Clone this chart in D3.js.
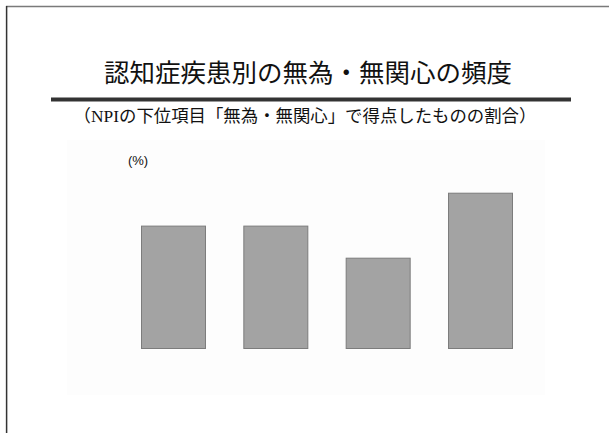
<!DOCTYPE html>
<html>
<head>
<meta charset="utf-8">
<script src="https://cdn.jsdelivr.net/npm/d3@7"></script>
<style>
  html, body { margin: 0; padding: 0; background: #fff; }
  svg { display: block; }
</style>
</head>
<body>
<div id="vis"></div>
<script>
const width = 609;
const height = 433;

const titleText = "認知症疾患別の無為・無関心の頻度";
const subtitleParts = ["（", "NPI", "の下位項目「無為・無関心」で得点したものの割合）"];
const unitText = "(%)";

// categories are not labelled in the picture
const categories = ["c1", "c2", "c3", "c4"];
const values = [45, 45, 33.3, 57];

const svg = d3.select("#vis").append("svg")
    .attr("width", width)
    .attr("height", height);

// slide frame
svg.append("line")
    .attr("x1", 6).attr("x2", width)
    .attr("y1", 6.6).attr("y2", 6.6)
    .attr("stroke", "#7a7a7a")
    .attr("stroke-width", 1.5);

svg.append("line")
    .attr("x1", 6.6).attr("x2", 6.6)
    .attr("y1", 6).attr("y2", height)
    .attr("stroke", "#333")
    .attr("stroke-width", 1.5);

svg.append("text")
    .attr("x", 308)
    .attr("y", 82)
    .attr("text-anchor", "middle")
    .style("font-family", "'Noto Sans CJK JP', sans-serif")
    .style("font-size", "25.5px")
    .attr("fill", "#111")
    .text(titleText);

svg.append("rect")
    .attr("x", 51).attr("y", 97.5)
    .attr("width", 520).attr("height", 4)
    .attr("fill", "#333");

let sub = svg.append("text")
    .attr("x", 305)
    .attr("y", 122)
    .attr("text-anchor", "middle")
    .style("font-family", "'Noto Sans CJK JP', sans-serif")
    .style("font-size", "17.4px")
    .attr("fill", "#111");

subtitleParts.forEach((t, i) => {
    sub.append("tspan")
        .style("font-family", i === 1 ? "'Liberation Serif', serif" : null)
        .text(t);
});

// faint plot background
svg.append("rect")
    .attr("x", 67).attr("y", 140)
    .attr("width", 478).attr("height", 255)
    .attr("fill", "#fdfdfd");

svg.append("text")
    .attr("x", 138)
    .attr("y", 165)
    .attr("text-anchor", "middle")
    .style("font-family", "'Liberation Sans', Arial, sans-serif")
    .style("font-size", "13px")
    .attr("fill", "#111")
    .text(unitText);

const x = d3.scaleBand()
    .domain(categories)
    .range([141, 513])
    .paddingInner(0.365)
    .paddingOuter(0);

const y = d3.scaleLinear()
    .domain([0, 100])
    .range([349, 349 - 274.2]);

svg.selectAll(".bar")
    .data(values)
    .enter()
    .append("rect")
    .attr("class", "bar")
    .attr("x", (d, i) => x(categories[i]) + 0.5)
    .attr("y", d => y(d) + 0.5)
    .attr("width", x.bandwidth() - 1)
    .attr("height", d => y(0) - y(d) - 1)
    .attr("fill", "#a3a3a3")
    .attr("stroke", "#7c7c7c")
    .attr("stroke-width", 1);
</script>
</body>
</html>
